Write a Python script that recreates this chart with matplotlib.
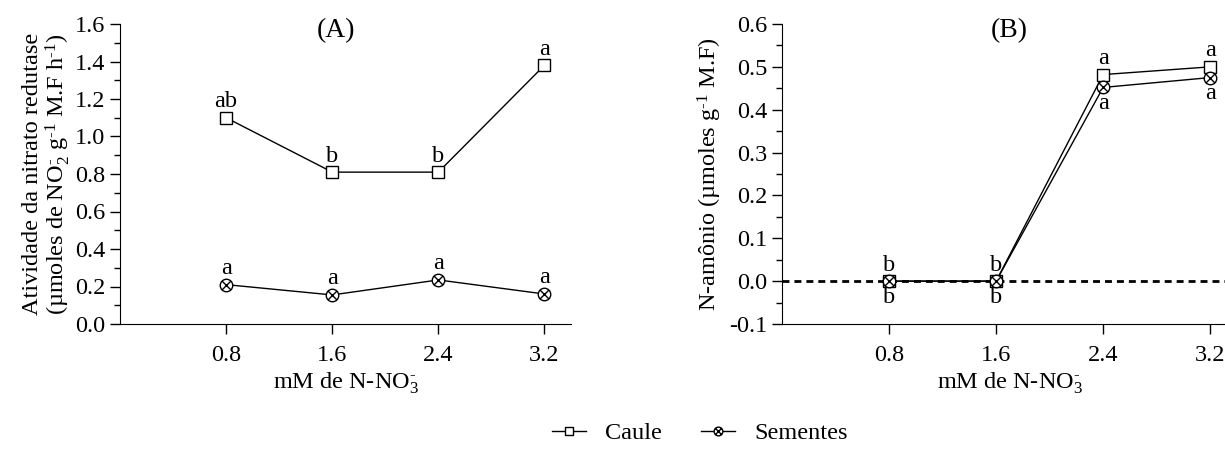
import matplotlib
matplotlib.use('Agg')
import matplotlib.pyplot as plt
import numpy as np
from matplotlib.path import Path
from matplotlib.ticker import MultipleLocator

plt.rcParams['font.family'] = ['Liberation Serif', 'DejaVu Serif']
plt.rcParams['mathtext.fontset'] = 'custom'
plt.rcParams['mathtext.rm'] = 'Liberation Serif'
plt.rcParams['mathtext.it'] = 'Liberation Serif:italic'

# data
doses = [0.8, 1.6, 2.4, 3.2]
nr_caule = [1.10, 0.81, 0.81, 1.38]
nr_sementes = [0.21, 0.155, 0.235, 0.16]
nr_caule_letters = ['ab', 'b', 'b', 'a']
nr_sementes_letters = ['a', 'a', 'a', 'a']
nh_caule = [0.0, 0.0, 0.482, 0.50]
nh_sementes = [0.0, 0.0, 0.452, 0.475]
nh_caule_letters = ['b', 'b', 'a', 'a']
nh_sementes_letters = ['b', 'b', 'a', 'a']

# circle with a cross inside
circ = Path.unit_circle()
k = np.sqrt(0.5)
cross = Path([(-k, -k), (k, k), (-k, k), (k, -k)],
             [Path.MOVETO, Path.LINETO, Path.MOVETO, Path.LINETO])
otimes = Path.make_compound_path(circ, cross)

fig = plt.figure(figsize=(12.25, 4.51), dpi=100)
W, H = 1225.0, 451.0
axA = fig.add_axes([120 / W, 1 - 324 / H, 451 / W, 300 / H])
axB = fig.add_axes([782 / W, 1 - 324 / H, 455 / W, 300 / H])

fs = 17.5
line_kw = dict(color='black', lw=1.0, markerfacecolor='white', markeredgecolor='black',
               markeredgewidth=1.0)

def style_axis(ax):
    ax.spines['top'].set_visible(False)
    ax.spines['right'].set_visible(False)
    ax.set_xlim(0, 3.4)
    ax.set_xticks(doses)
    ax.set_xticklabels(['0.8', '1.6', '2.4', '3.2'])
    ax.tick_params(axis='both', which='major', direction='out', length=7, width=1,
                   labelsize=fs)
    ax.tick_params(axis='x', which='major', pad=8)
    ax.tick_params(axis='y', which='minor', direction='out', length=4, width=1)
    ax.set_xlabel('mM de N-NO$_3^{\\text{-}}$', fontsize=fs, labelpad=3)

# panel A
hc, = axA.plot(doses, nr_caule, marker='s', ms=9, label='Caule', **line_kw)
hs, = axA.plot(doses, nr_sementes, marker=otimes, ms=9, label='Sementes', **line_kw)
axA.set_ylim(0, 1.6)
axA.yaxis.set_major_locator(MultipleLocator(0.2))
axA.yaxis.set_minor_locator(MultipleLocator(0.1))
axA.yaxis.set_major_formatter(plt.FuncFormatter(lambda v, p: '%.1f' % v))
style_axis(axA)
axA.set_ylabel('Atividade da nitrato redutase\n'
               '(µmoles de NO$_2^{\\text{-}}$ g$^{\\text{-1}}$ M.F h$^{\\text{-1}}$)',
               fontsize=fs, labelpad=2, linespacing=1.0)
for x, y, t in zip(doses, nr_caule, nr_caule_letters):
    axA.annotate(t, (x, y), xytext=(0, 4), textcoords='offset points',
                 ha='center', va='bottom', fontsize=fs)
for x, y, t in zip(doses, nr_sementes, nr_sementes_letters):
    axA.annotate(t, (x, y), xytext=(0, 4), textcoords='offset points',
                 ha='center', va='bottom', fontsize=fs)
axA.text(0.48, 1.02, '(A)', transform=axA.transAxes, ha='center', va='top', fontsize=20)

# panel B
axB.axhline(0, color='black', lw=2, ls=(0, (2.5, 1.8)), zorder=1)
axB.plot(doses, nh_caule, marker='s', ms=9, zorder=3, **line_kw)
axB.plot(doses, nh_sementes, marker=otimes, ms=9, zorder=3, **line_kw)
axB.set_ylim(-0.1, 0.6)
axB.yaxis.set_major_locator(MultipleLocator(0.1))
axB.yaxis.set_minor_locator(MultipleLocator(0.05))
axB.yaxis.set_major_formatter(plt.FuncFormatter(lambda v, p: '%.1f' % v))
style_axis(axB)
axB.set_ylabel('N-amônio (µmoles g$^{\\text{-1}}$ M.F)', fontsize=fs, labelpad=4)
for x, y, t in zip(doses, nh_caule, nh_caule_letters):
    axB.annotate(t, (x, y), xytext=(0, 4), textcoords='offset points',
                 ha='center', va='bottom', fontsize=fs)
for x, y, t in zip(doses, nh_sementes, nh_sementes_letters):
    axB.annotate(t, (x, y), xytext=(0, -4), textcoords='offset points',
                 ha='center', va='top', fontsize=fs)
axB.text(0.5, 1.02, '(B)', transform=axB.transAxes, ha='center', va='top', fontsize=20)

fig.legend([hc, hs], ['Caule', 'Sementes'], loc='center', bbox_to_anchor=(700 / W, 1 - 433 / H),
           ncol=2, frameon=False, fontsize=fs, handlelength=1.4, columnspacing=1.6,
           handletextpad=0.8, markerscale=0.7)

fig.savefig('out.png', dpi=100)
